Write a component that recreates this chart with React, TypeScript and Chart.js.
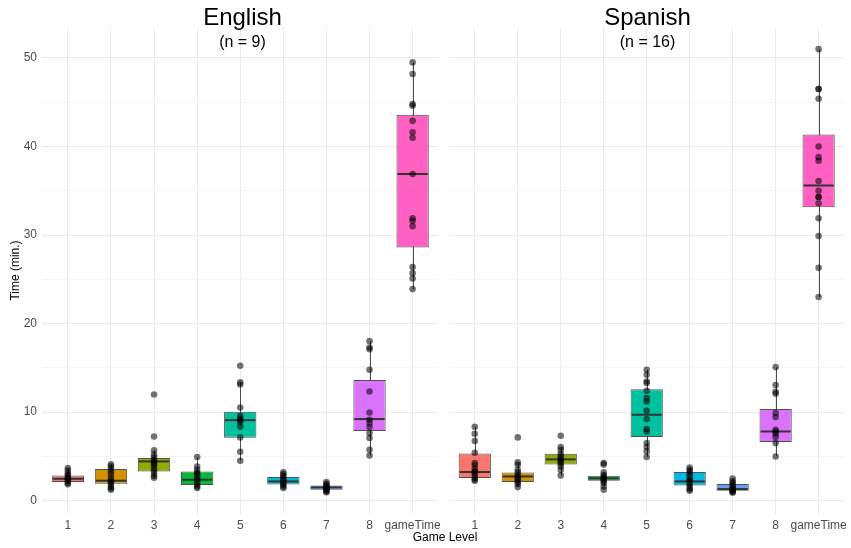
import React, { useEffect, useRef } from 'react';
import { Chart, registerables } from 'chart.js';

Chart.register(...registerables);

const categories = ['1', '2', '3', '4', '5', '6', '7', '8', 'gameTime'];
const boxColors = ['#F8766D', '#D39200', '#93AA00', '#00BA38', '#00C19F', '#00B9E3', '#619CFF', '#DB72FB', '#FF61C3'];
const yTickValues = [0, 5, 10, 15, 20, 25, 30, 35, 40, 45, 50];

// English panel
const englishPoints = [
  [3.7, 3.4, 3.1, 2.9, 2.7, 2.5, 2.4, 2.2, 2.0, 1.85],
  [4.1, 3.9, 3.6, 3.3, 3.0, 2.6, 2.3, 2.1, 1.9, 1.6, 1.4, 1.25],
  [12.0, 7.26, 5.68, 5.2, 4.9, 4.6, 4.4, 4.2, 4.0, 3.7, 3.4, 3.1, 2.8, 2.6],
  [4.93, 3.87, 3.5, 3.2, 3.0, 2.7, 2.4, 2.1, 1.8, 1.6, 1.43],
  [15.24, 13.36, 13.13, 10.53, 9.59, 9.33, 9.1, 8.84, 8.39, 7.15, 5.53, 4.51],
  [3.2, 3.0, 2.8, 2.6, 2.4, 2.2, 2.0, 1.8, 1.6, 1.43],
  [2.1, 1.9, 1.75, 1.6, 1.5, 1.4, 1.3, 1.2, 1.05, 0.95],
  [18.02, 17.3, 17.1, 14.79, 12.34, 9.97, 9.14, 8.77, 8.32, 7.64, 7.08, 5.76, 5.11],
  [49.5, 48.2, 44.8, 44.6, 42.9, 41.6, 41.0, 36.9, 31.9, 31.6, 31.0, 26.4, 25.7, 25.1, 23.9],
];
const englishQ1 = [2.11, 1.92, 3.31, 1.77, 7.11, 1.84, 1.24, 7.86, 28.6];
const englishMedian = [2.48, 2.26, 4.44, 2.37, 9.1, 2.18, 1.5, 9.22, 36.9];
const englishQ3 = [2.86, 3.57, 4.82, 3.31, 10.05, 2.67, 1.73, 13.62, 43.6];
const englishLow = [1.85, 1.25, 2.6, 1.43, 4.51, 1.43, 0.95, 5.11, 23.9];
const englishHigh = [3.7, 4.1, 5.68, 4.93, 13.36, 3.2, 2.1, 18.02, 49.5];

// Spanish panel
const spanishPoints = [
  [8.35, 7.56, 6.74, 5.42, 4.25, 4.0, 3.6, 3.3, 3.2, 2.9, 2.6, 2.4, 2.26],
  [7.15, 4.33, 4.06, 3.5, 3.2, 2.9, 2.7, 2.5, 2.3, 2.1, 1.9, 1.54],
  [7.34, 6.06, 5.75, 5.3, 5.0, 4.8, 4.6, 4.4, 4.2, 3.9, 3.5, 2.86],
  [4.25, 4.1, 3.2, 2.9, 2.7, 2.5, 2.4, 2.2, 2.0, 1.6, 1.24],
  [14.79, 14.22, 13.47, 13.3, 12.42, 11.59, 11.2, 10.16, 9.22, 8.09, 7.82, 6.51, 6.06, 5.57, 4.93],
  [3.76, 3.5, 3.3, 3.0, 2.7, 2.4, 2.2, 2.0, 1.8, 1.5, 1.3, 1.13],
  [2.5, 2.2, 2.0, 1.8, 1.6, 1.4, 1.3, 1.2, 1.1, 1.0, 0.9],
  [15.09, 13.06, 12.3, 12.08, 9.9, 9.45, 8.01, 7.82, 7.56, 7.19, 6.51, 5.0],
  [51.0, 46.5, 46.5, 45.4, 40.0, 38.8, 38.4, 36.1, 35.0, 34.3, 34.3, 33.6, 31.9, 29.9, 26.3, 23.0],
];
const spanishQ1 = [2.56, 2.11, 4.1, 2.26, 7.19, 1.73, 1.13, 6.63, 33.15];
const spanishMedian = [3.24, 2.74, 4.67, 2.52, 9.71, 2.18, 1.32, 7.82, 35.6];
const spanishQ3 = [5.34, 3.2, 5.3, 2.82, 12.6, 3.24, 1.88, 10.35, 41.35];
const spanishLow = [2.26, 1.54, 2.86, 1.6, 4.93, 1.13, 0.9, 5.0, 23.0];
const spanishHigh = [8.35, 4.33, 6.06, 3.2, 14.79, 3.76, 2.5, 15.09, 51.0];

const FONT = "'Liberation Sans', Arial, sans-serif";

type Panel = {
  points: number[][];
  q1: number[];
  median: number[];
  q3: number[];
  low: number[];
  high: number[];
};

function makeBoxPlugin(p: Panel) {
  return {
    id: 'boxExtras',
    beforeDatasetsDraw(chart: any) {
      const { ctx } = chart;
      const xs = chart.scales.x;
      const ys = chart.scales.y;
      ctx.save();
      ctx.strokeStyle = '#4D4D4D';
      ctx.lineWidth = 1;
      p.low.forEach((lo, i) => {
        const x = Math.round(xs.getPixelForValue(i + 1)) + 0.5;
        ctx.beginPath();
        ctx.moveTo(x, ys.getPixelForValue(lo));
        ctx.lineTo(x, ys.getPixelForValue(p.high[i]));
        ctx.stroke();
      });
      ctx.restore();
    },
    afterDatasetDraw(chart: any, args: any) {
      if (args.index !== 0) return;
      const { ctx } = chart;
      const ys = chart.scales.y;
      ctx.save();
      ctx.strokeStyle = '#333333';
      ctx.lineWidth = 2;
      args.meta.data.forEach((bar: any, i: number) => {
        const { x, width } = bar.getProps(['x', 'width'], true);
        const y = ys.getPixelForValue(p.median[i]);
        ctx.beginPath();
        ctx.moveTo(x - width / 2 + 1, y);
        ctx.lineTo(x + width / 2 - 1, y);
        ctx.stroke();
      });
      ctx.restore();
    },
  };
}

function makeConfig(p: Panel, showY: boolean, padRight: number): any {
  return {
    type: 'bar',
    data: {
      datasets: [
        {
          type: 'bar',
          order: 1,
          data: categories.map((_, i) => ({ x: i + 1, y: [p.q1[i], p.q3[i]] })),
          backgroundColor: boxColors,
          borderColor: 'rgba(51,51,51,0.85)',
          borderWidth: 1,
          borderSkipped: false,
          barPercentage: 0.75,
          categoryPercentage: 1,
        },
        {
          type: 'scatter',
          order: 0,
          data: p.points.flatMap((arr, i) => arr.map((v) => ({ x: i + 1, y: v }))),
          backgroundColor: 'rgba(0,0,0,0.55)',
          borderWidth: 0,
          pointRadius: 3.3,
        },
      ],
    },
    options: {
      responsive: false,
      animation: false,
      events: [],
      layout: { padding: { top: 27, right: padRight, left: 0, bottom: 0 } },
      plugins: { legend: { display: false }, tooltip: { enabled: false }, title: { display: false } },
      scales: {
        x: {
          type: 'linear',
          min: 0.4,
          max: 9.6,
          offset: false,
          afterBuildTicks: (s: any) => {
            s.ticks = categories.map((_, i) => ({ value: i + 1 }));
          },
          afterFit: (s: any) => {
            s.height = 34;
          },
          ticks: {
            callback: (v: number) => categories[Math.round(v) - 1],
            color: '#4D4D4D',
            font: { family: FONT, size: 12 },
            padding: 4,
            autoSkip: false,
            maxRotation: 0,
          },
          grid: { color: '#EBEBEB', drawTicks: false, offset: false },
          border: { display: false },
        },
        y: {
          type: 'linear',
          min: -1.5,
          max: 53.5,
          afterBuildTicks: (s: any) => {
            s.ticks = yTickValues.map((v) => ({ value: v }));
          },
          afterFit: (s: any) => {
            s.width = showY ? 42 : 2;
          },
          ticks: {
            display: showY,
            callback: (v: number) => (v % 10 === 0 ? String(v) : ''),
            color: '#4D4D4D',
            font: { family: FONT, size: 12 },
            padding: 5,
          },
          grid: {
            color: (c: any) => (c.tick && c.tick.value % 10 === 0 ? '#EBEBEB' : '#F4F4F4'),
            drawTicks: false,
          },
          border: { display: false },
          title: {
            display: showY,
            text: 'Time (min.)',
            color: '#000000',
            font: { family: FONT, size: 12 },
            padding: { top: 8, bottom: 0 },
          },
        },
      },
    },
    plugins: [makeBoxPlugin(p)],
  };
}

const english: Panel = {
  points: englishPoints,
  q1: englishQ1,
  median: englishMedian,
  q3: englishQ3,
  low: englishLow,
  high: englishHigh,
};
const spanish: Panel = {
  points: spanishPoints,
  q1: spanishQ1,
  median: spanishMedian,
  q3: spanishQ3,
  low: spanishLow,
  high: spanishHigh,
};

export default function App() {
  const leftRef = useRef<HTMLCanvasElement>(null);
  const rightRef = useRef<HTMLCanvasElement>(null);

  useEffect(() => {
    const c1 = new Chart(leftRef.current as HTMLCanvasElement, makeConfig(english, true, 2));
    const c2 = new Chart(rightRef.current as HTMLCanvasElement, makeConfig(spanish, false, 3));
    return () => {
      c1.destroy();
      c2.destroy();
    };
  }, []);

  const titleStyle: React.CSSProperties = {
    position: 'absolute',
    top: 5,
    width: 401,
    textAlign: 'center',
    fontFamily: FONT,
    fontSize: 24,
    lineHeight: '24px',
    color: '#000',
  };
  const subStyle: React.CSSProperties = {
    position: 'absolute',
    top: 34,
    width: 401,
    textAlign: 'center',
    fontFamily: FONT,
    fontSize: 16,
    lineHeight: '16px',
    color: '#000',
  };

  return (
    <div style={{ position: 'absolute', left: 0, top: 0, width: 851, height: 548, background: '#fff', overflow: 'hidden' }}>
      <canvas ref={leftRef} width={445} height={548} style={{ position: 'absolute', left: 0, top: 0 }} />
      <canvas ref={rightRef} width={406} height={548} style={{ position: 'absolute', left: 445, top: 0 }} />
      <div style={{ ...titleStyle, left: 42 }}>English</div>
      <div style={{ ...subStyle, left: 42 }}>(n = 9)</div>
      <div style={{ ...titleStyle, left: 447 }}>Spanish</div>
      <div style={{ ...subStyle, left: 447 }}>(n = 16)</div>
      <div
        style={{
          position: 'absolute',
          left: 345,
          top: 530,
          width: 200,
          textAlign: 'center',
          fontFamily: FONT,
          fontSize: 12,
          lineHeight: '14px',
          color: '#000',
        }}
      >
        Game Level
      </div>
    </div>
  );
}
